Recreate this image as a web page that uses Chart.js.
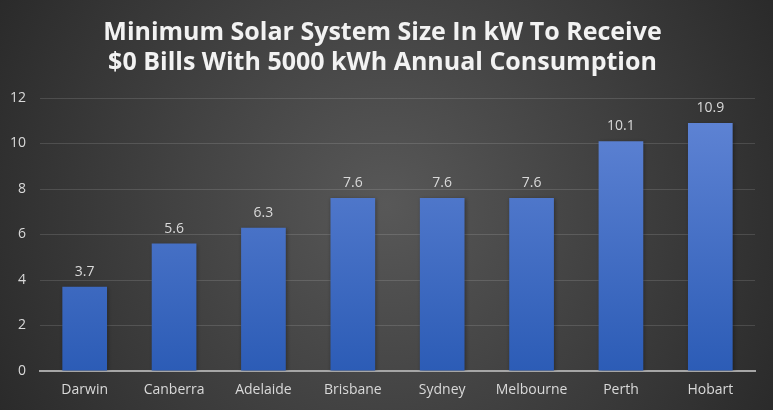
<!DOCTYPE html>
<html>
<head>
<meta charset="utf-8">
<script src="https://cdn.jsdelivr.net/npm/chart.js@4"></script>
<style>
  html, body { margin: 0; padding: 0; background: #404040; }
  #wrap { width: 773px; height: 410px; }
</style>
</head>
<body>
<div id="wrap"><canvas id="c" width="773" height="410"></canvas></div>
<script>
const categories = ["Darwin", "Canberra", "Adelaide", "Brisbane", "Sydney", "Melbourne", "Perth", "Hobart"];
const systemSizeKw = [3.7, 5.6, 6.3, 7.6, 7.6, 7.6, 10.1, 10.9];
const yTicks = [0, 2, 4, 6, 8, 10, 12];
const titleLines = ["Minimum Solar System Size In kW To Receive", "$0 Bills With 5000 kWh Annual Consumption"];

const bgPlugin = {
  id: 'bg',
  beforeDraw(chart) {
    const { ctx, width, height } = chart;
    ctx.save();
    const g = ctx.createRadialGradient(width / 2, height / 2, 0, width / 2, height / 2, width * 0.62);
    g.addColorStop(0, '#585858');
    g.addColorStop(1, '#262626');
    ctx.fillStyle = g;
    ctx.fillRect(0, 0, width, height);
    ctx.restore();
  }
};

const labelPlugin = {
  id: 'valueLabels',
  afterDatasetsDraw(chart) {
    const { ctx } = chart;
    const meta = chart.getDatasetMeta(0);
    ctx.save();
    ctx.font = '14px "Open Sans", sans-serif';
    ctx.fillStyle = '#d9d9d9';
    ctx.textAlign = 'center';
    ctx.textBaseline = 'middle';
    meta.data.forEach((bar, i) => {
      ctx.fillText(String(systemSizeKw[i]), bar.x, bar.y - 15);
    });
    ctx.restore();
  }
};

const shadowPlugin = {
  id: 'barShadow',
  beforeDatasetsDraw(chart) {
    chart.ctx.save();
    chart.ctx.shadowColor = 'rgba(0,0,0,0.35)';
    chart.ctx.shadowBlur = 4;
    chart.ctx.shadowOffsetX = 1;
    chart.ctx.shadowOffsetY = 1;
  },
  afterDatasetsDraw(chart) {
    chart.ctx.restore();
  }
};

new Chart(document.getElementById('c'), {
  type: 'bar',
  data: {
    labels: categories,
    datasets: [{
      data: systemSizeKw,
      backgroundColor(context) {
        const area = context.chart.chartArea;
        if (!area) return '#4472c4';
        const g = context.chart.ctx.createLinearGradient(0, area.top, 0, area.bottom);
        g.addColorStop(0, '#6286d6');
        g.addColorStop(1, '#2c5cb6');
        return g;
      },
      borderWidth: 0,
      categoryPercentage: 1,
      barPercentage: 0.5
    }]
  },
  options: {
    responsive: false,
    animation: false,
    layout: { padding: { left: 10, right: 18, top: 0, bottom: 0 } },
    plugins: {
      legend: { display: false },
      tooltip: { enabled: false },
      title: {
        display: true,
        text: titleLines,
        color: '#f2f2f2',
        font: { family: '"Open Sans", sans-serif', size: 25, weight: 'bold', lineHeight: 1.2 },
        padding: { top: 18, bottom: 20 }
      }
    },
    scales: {
      x: {
        grid: { display: false, drawTicks: false },
        border: { display: true, color: '#a6a6a6', width: 2 },
        afterFit(scale) { scale.height = 39; },
        ticks: { color: '#d9d9d9', font: { family: '"Open Sans", sans-serif', size: 14 }, padding: 11 }
      },
      y: {
        min: 0,
        max: 12,
        afterBuildTicks(scale) { scale.ticks = yTicks.map(v => ({ value: v })); },
        afterFit(scale) { scale.width = 30; },
        grid: { color: 'rgba(255,255,255,0.13)', drawTicks: false },
        border: { display: false },
        ticks: { color: '#d9d9d9', font: { family: '"Open Sans", sans-serif', size: 14 }, padding: 14 }
      }
    }
  },
  plugins: [bgPlugin, shadowPlugin, labelPlugin]
});
</script>
</body>
</html>
